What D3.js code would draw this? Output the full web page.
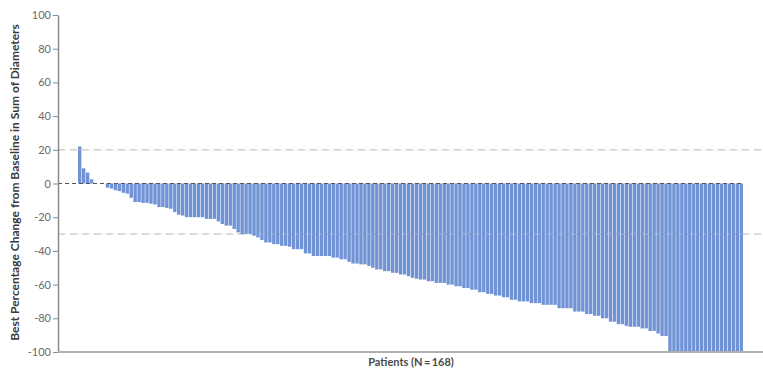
<!DOCTYPE html>
<html>
<head>
<meta charset="utf-8">
<script src="https://cdn.jsdelivr.net/npm/d3@7"></script>
<style>
  body { margin: 0; background: #fff; }
  text { font-family: Lato, "Open Sans", sans-serif; }
</style>
</head>
<body>
<div class="canvas"></div>
<script>
// best % change per patient, sorted
let changes = [
  22, 9, 6.5, 2.5, 0, 0, 0, -2.5, -3, -4,
  -4.5, -5.5, -6, -8.5, -11, -11, -11.5, -11.5, -12, -12.5,
  -14, -14, -14.5, -15, -17, -18.5, -19, -20, -20, -20,
  -20, -20, -21, -21, -21, -22.5, -24, -25, -25, -27,
  -29, -30, -30, -30, -31, -32, -33.5, -35, -35, -36,
  -36, -37, -37, -37.5, -39, -39, -39, -41.5, -41.5, -43,
  -43, -43, -43, -43, -44, -44, -45, -45, -46.5, -47.5,
  -47.5, -48, -48, -49, -50, -51, -51, -52, -52, -53,
  -53, -54, -54, -55, -56, -56.5, -57, -57, -58, -58,
  -59, -59, -59, -60, -60, -61, -61, -62, -62, -63,
  -63, -64.5, -64.5, -65.5, -65.5, -66.5, -66.5, -67.5, -67.5, -69,
  -69, -70, -70, -70, -71, -71, -71, -72, -72, -72,
  -72, -74, -74, -74, -74, -76, -76, -76, -77.5, -77.5,
  -78.5, -78.5, -80, -80, -82, -82, -83.5, -83.5, -84.5, -85,
  -85, -85, -86, -86, -87.5, -87.5, -89, -90.5, -90.5, -100,
  -100, -100, -100, -100, -100, -100, -100, -100, -100, -100,
  -100, -100, -100, -100, -100, -100, -100, -100
];
let yTicks = [100, 80, 60, 40, 20, 0, -20, -40, -60, -80, -100];
let refLines = [20, -30];
let yLabel = "Best Percentage Change from Baseline in Sum of Diameters";
let xLabel = "Patients (N\u2009=\u2009168)";

let width = 763, height = 371;
const margin = { top: 15, right: 0, bottom: 19, left: 58 };
let barLeft = 78, barRight = 743;

let svg = d3.select('.canvas')
  .append('svg')
  .attr('width', width)
  .attr('height', height);

let patients = changes.map((d, i) => i);

let xScale = d3.scaleBand()
  .domain(patients)
  .range([barLeft, barRight])
  .paddingInner(0.14)
  .paddingOuter(0);

let yScale = d3.scaleLinear()
  .domain([-100, 100])
  .range([height - margin.bottom, margin.top]);

// reference lines behind bars
svg.selectAll('.ref-line')
  .data(refLines)
  .enter()
  .append('line')
  .attr('class', 'ref-line')
  .attr('x1', margin.left)
  .attr('x2', width)
  .attr('y1', d => yScale(d))
  .attr('y2', d => yScale(d))
  .attr('stroke', '#cfcfcf')
  .attr('stroke-width', 1.5)
  .attr('stroke-dasharray', '7,5');

// bars
svg.selectAll('.bar')
  .data(changes)
  .enter()
  .append('rect')
  .attr('class', 'bar')
  .attr('x', (d, i) => xScale(i))
  .attr('width', xScale.bandwidth())
  .attr('y', d => yScale(Math.max(0, d)))
  .attr('height', d => Math.abs(yScale(d) - yScale(0)))
  .attr('fill', '#7093d6');

// faint show-through of ref lines over the bars
svg.selectAll('.ref-over')
  .data(refLines)
  .enter()
  .append('line')
  .attr('class', 'ref-over')
  .attr('x1', barLeft)
  .attr('x2', barRight)
  .attr('y1', d => yScale(d))
  .attr('y2', d => yScale(d))
  .attr('stroke', '#dddddd')
  .attr('stroke-opacity', 0.25)
  .attr('stroke-width', 1.5)
  .attr('stroke-dasharray', '7,5');

// zero line
svg.append('line')
  .attr('x1', margin.left)
  .attr('x2', barRight)
  .attr('y1', yScale(0))
  .attr('y2', yScale(0))
  .attr('stroke', '#555')
  .attr('stroke-width', 1.2)
  .attr('stroke-dasharray', '4,3');

// y axis
let yAxis = svg.append('g')
  .attr('class', 'y-axis')
  .attr('transform', `translate(${margin.left}, 0)`)
  .call(d3.axisLeft(yScale).tickValues(yTicks).tickSize(5).tickPadding(2).tickSizeOuter(0));

yAxis.select('.domain').attr('stroke', '#8a8a8a').attr('stroke-width', 1.5);
yAxis.selectAll('.tick line').attr('stroke', '#8a8a8a');
yAxis.selectAll('.tick text')
  .attr('fill', '#6a6a6a')
  .style('font-size', '11px')
  .text(d => d < 0 ? '-' + Math.abs(d) : d);

// x axis line
svg.append('line')
  .attr('x1', margin.left)
  .attr('x2', width)
  .attr('y1', yScale(-100))
  .attr('y2', yScale(-100))
  .attr('stroke', '#b0b0b0')
  .attr('stroke-width', 2);

// labels
svg.append('text')
  .attr('transform', 'rotate(-90)')
  .attr('x', -yScale(0) + 1)
  .attr('y', 19)
  .attr('text-anchor', 'middle')
  .attr('fill', '#3a3a3a')
  .style('font-size', '12px')
  .style('font-weight', 'bold')
  .text(yLabel);

svg.append('text')
  .attr('x', 411)
  .attr('y', 366)
  .attr('text-anchor', 'middle')
  .attr('fill', '#4a4a4a')
  .style('font-size', '11px')
  .style('font-weight', 'bold')
  .text(xLabel);
</script>
</body>
</html>
